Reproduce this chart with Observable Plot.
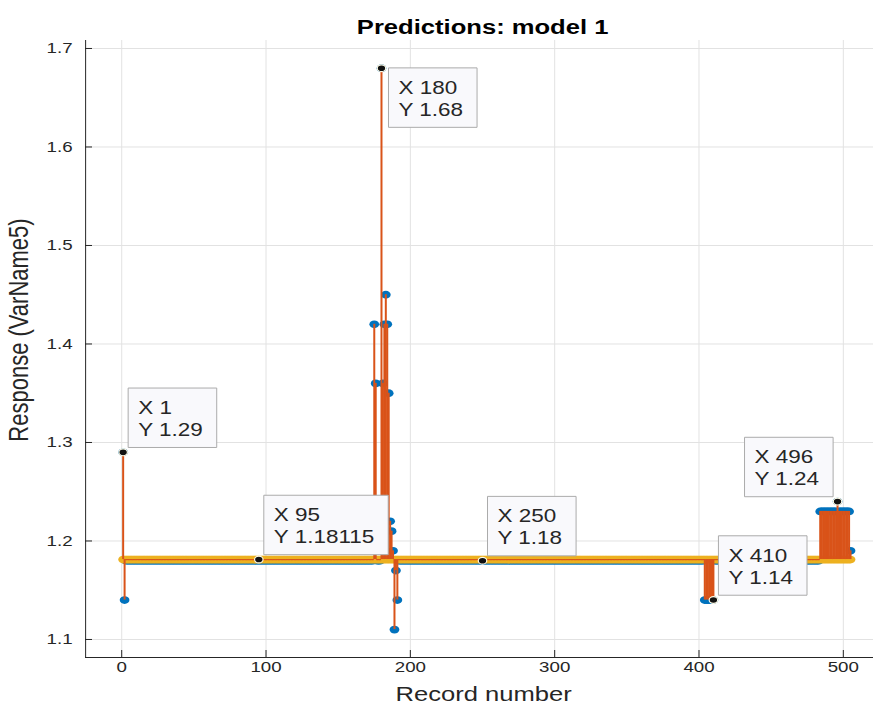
<!DOCTYPE html>
<html>
<head>
<meta charset="utf-8">
<script src="https://cdn.jsdelivr.net/npm/d3@7"></script>
<script src="https://cdn.jsdelivr.net/npm/@observablehq/plot@0.6"></script>
<style>
html, body { margin: 0; padding: 0; background: #ffffff; }
#chart svg { display: block; }
</style>
</head>
<body>
<div id="chart"></div>
<script>
// ---------------- data ----------------
const chartTitle = "Predictions: model 1";
const xLabel = "Record number";
const yLabel = "Response (VarName5)";
const recordCount = 505;
const baseResponse = 1.18;          // true response of all records not listed below
const predictedResponse = 1.18115;  // model 1 prediction (constant)
const outlierRecords = [1, 2,
  175, 176, 180, 181, 182, 183, 184, 185, 186, 187, 188, 189, 190, 191,
  404, 405, 406, 407, 408, 409, 410,
  484, 485, 486, 487, 488, 489, 490, 491, 492, 493, 494, 495, 496, 497, 498, 499, 500, 501, 502, 503, 504, 505];
const outlierResponses = [1.29, 1.14,
  1.42, 1.36, 1.68, 1.36, 1.42, 1.45, 1.42, 1.35, 1.22, 1.21, 1.19, 1.11, 1.17, 1.14,
  1.14, 1.14, 1.14, 1.14, 1.14, 1.14, 1.14,
  1.23, 1.23, 1.23, 1.23, 1.23, 1.23, 1.23, 1.23, 1.23, 1.23, 1.23, 1.23, 1.24, 1.23, 1.23, 1.23, 1.23, 1.23, 1.23, 1.23, 1.23, 1.19];
const xTicks = [0, 100, 200, 300, 400, 500];
const yTicks = [1.1, 1.2, 1.3, 1.4, 1.5, 1.6, 1.7];
const tipRecords = [1, 95, 180, 250, 410, 496];
const tipSeries = ["response", "predicted", "response", "response", "response", "response"];

// ---------------- layout ----------------
const s = 874 / 700;             // horizontal stretch of the picture
const W = 700, H = 709;
const mL = 85 / s, mR = 1 / s, mT = 40, mB = 52;
const frameW = W - mL - mR, frameH = H - mT - mB;
const xDomain = [-25, 521];
const yDomain = [1.0817, 1.7081];

const BLUE = "#0072BD", ORANGE = "#D95319", YELLOW = "#EDB120";
const AXIS = "#262626", GRID = "#e2e2e2";
const FONT = "'Liberation Sans', Arial, Helvetica, sans-serif";

// ---------------- tables ----------------
const responseByRecord = new Map(outlierRecords.map((r, i) => [r, outlierResponses[i]]));
const rows = d3.range(1, recordCount + 1).map(record => ({
  record,
  response: responseByRecord.has(record) ? responseByRecord.get(record) : baseResponse,
  predicted: predictedResponse
}));
const tips = tipRecords.map((record, i) => {
  const value = rows[record - 1][tipSeries[i]];
  return {record, value, label: `X ${record}\nY ${value}`};
});
const tipPlacement = {180: "below-right", 496: "above-left"};
const placeOf = d => tipPlacement[d.record] || "above-right";

const tipText = (place, opts) => Plot.text(tips.filter(d => placeOf(d) === place), {
  x: "record", y: "value", text: "label",
  fontSize: 18, lineHeight: 22 / 18, lineAnchor: "top", textAnchor: "start",
  fill: AXIS, fontFamily: FONT,
  ...opts
});

const chart = Plot.plot({
  width: W, height: H,
  marginLeft: mL, marginRight: mR, marginTop: mT, marginBottom: mB,
  style: {fontFamily: FONT, fontSize: "15px", color: AXIS, background: "#ffffff", overflow: "visible"},
  x: {domain: xDomain, ticks: xTicks, tickSize: 0, tickPadding: 4, label: null},
  y: {domain: yDomain, ticks: yTicks, tickSize: 0, tickPadding: 13 / s, tickFormat: d3.format(".1f"), label: null},
  marks: [
    Plot.ruleX(xTicks, {stroke: GRID, strokeWidth: 1}),
    Plot.ruleY(yTicks, {stroke: GRID, strokeWidth: 1}),
    Plot.dot(rows, {x: "record", y: "response", r: 3.9, fill: BLUE}),
    Plot.dot(rows, {x: "record", y: "predicted", r: 3.9, fill: YELLOW}),
    Plot.ruleX(rows, {x: "record", y1: "response", y2: "predicted", stroke: ORANGE, strokeWidth: 2}),
    Plot.ruleX([xDomain[0]], {stroke: AXIS, strokeWidth: 1}),
    Plot.ruleY([yDomain[0]], {stroke: AXIS, strokeWidth: 1}),
    Plot.tickX(xTicks, {stroke: AXIS, insetTop: frameH - 7}),
    Plot.tickY(yTicks, {stroke: AXIS, insetRight: frameW - 7 / s}),
    Plot.dot(tips, {x: "record", y: "value", r: 3.4, fill: "#111111", stroke: "#fffbe6", strokeWidth: 1.2}),
    tipText("above-right", {dx: 15 / s, dy: -54}),
    tipText("below-right", {dx: 17 / s, dy: 10}),
    tipText("above-left", {dx: -83 / s, dy: -54}),
    Plot.text([chartTitle], {text: d => d, frameAnchor: "top", lineAnchor: "middle", textAnchor: "middle", dx: 3 / s, dy: -13, fontSize: 20.5, fontWeight: "bold", fill: "#000000"}),
    Plot.text([xLabel], {text: d => d, frameAnchor: "bottom", lineAnchor: "middle", textAnchor: "middle", dx: 4 / s, dy: 37, fontSize: 20.5, fill: AXIS}),
    Plot.text([yLabel], {text: d => d, frameAnchor: "left", lineAnchor: "middle", textAnchor: "middle", rotate: -90, dx: -(85 - 19) / s, dy: -19, fontSize: 22, fill: AXIS})
  ]
});

chart.setAttribute("width", 874);
chart.setAttribute("height", 709);
chart.setAttribute("preserveAspectRatio", "none");
chart.style.width = "874px";
chart.style.height = "709px";
chart.style.maxWidth = "none";
document.getElementById("chart").appendChild(chart);

chart.querySelectorAll("line, path, circle").forEach(el => el.setAttribute("vector-effect", "non-scaling-stroke"));

// datatip boxes behind their text
Array.from(chart.querySelectorAll("text"))
  .filter(t => /^X \d/.test(t.textContent))
  .forEach(t => {
    const bb = t.getBBox();
    const rect = document.createElementNS("http://www.w3.org/2000/svg", "rect");
    rect.setAttribute("x", bb.x - 10 / s);
    rect.setAttribute("y", bb.y - 10);
    rect.setAttribute("width", bb.width + 24 / s);
    rect.setAttribute("height", bb.height + 18);
    rect.setAttribute("fill", "#f9f9fc");
    rect.setAttribute("stroke", "#ababab");
    rect.setAttribute("stroke-width", 1);
    rect.setAttribute("vector-effect", "non-scaling-stroke");
    const tr = t.getAttribute("transform");
    if (tr) rect.setAttribute("transform", tr);
    t.parentNode.insertBefore(rect, t);
  });
</script>
</body>
</html>
